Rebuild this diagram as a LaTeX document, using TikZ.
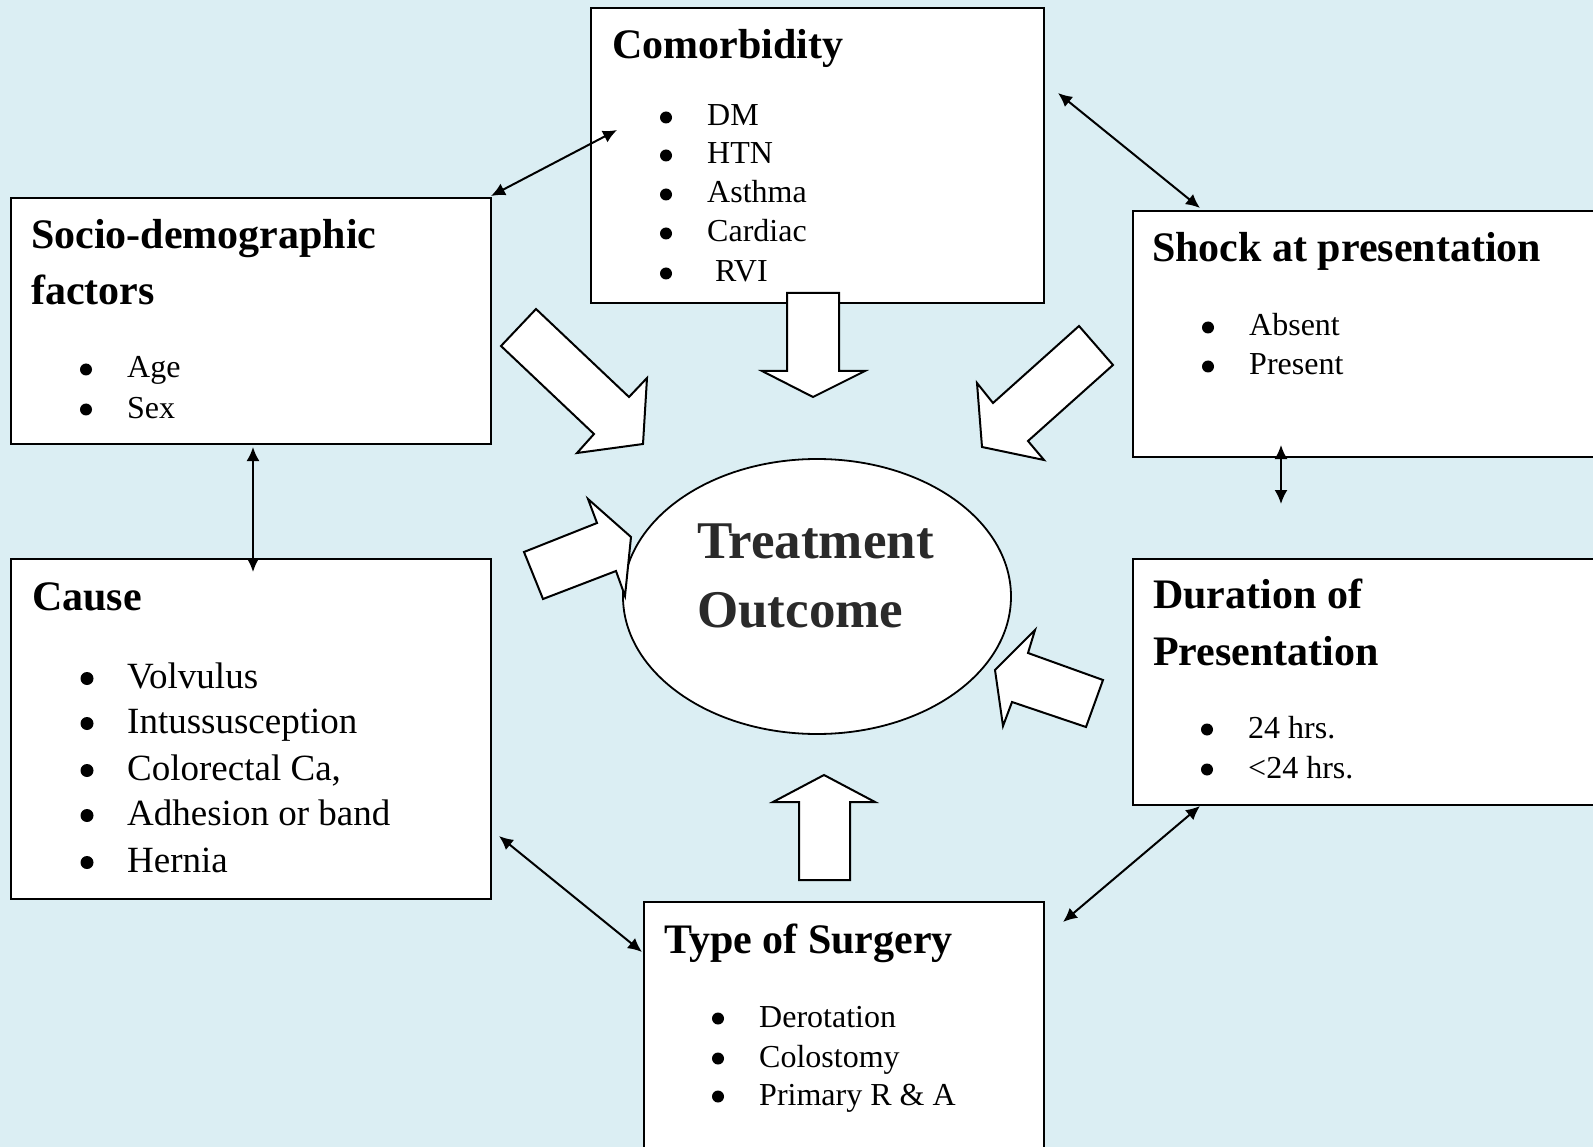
\documentclass[tikz,border=0pt]{standalone}
\usepackage{fontspec}
\setmainfont{Liberation Serif}
\usetikzlibrary{shapes.geometric,arrows.meta}
\definecolor{bg}{RGB}{219,238,243}
\definecolor{tgray}{RGB}{42,42,42}
\begin{document}
\begin{tikzpicture}[x=1pt,y=-1pt,
  box/.style={draw, line width=2pt, fill=white, anchor=north west, inner sep=0pt},
  ttl/.style={anchor=base west, inner sep=0pt, font=\fontsize{42}{50}\selectfont\bfseries},
  itm/.style={anchor=base west, inner sep=0pt, font=\fontsize{32}{38}\selectfont},
  itmL/.style={anchor=base west, inner sep=0pt, font=\fontsize{37}{44}\selectfont},
  blk/.style={draw, line width=2pt, fill=white, line join=miter},
  dbl/.style={line width=2pt, {Latex[length=14pt,width=13pt]}-{Latex[length=14pt,width=13pt]}}]
\useasboundingbox (0,0) rectangle (1593,1147);
\fill[bg] (0,0) rectangle (1593,1147);
\clip (0,0) rectangle (1593,1147);

% boxes
\node[box, minimum width=453pt, minimum height=295pt] (com) at (590,7) {};
\node[box, minimum width=480pt, minimum height=246pt] (soc) at (10,197) {};
\node[box, minimum width=480pt, minimum height=340pt] (cau) at (10,558) {};
\node[box, minimum width=500pt, minimum height=246pt] (sho) at (1132,210) {};
\node[box, minimum width=500pt, minimum height=246pt] (dur) at (1132,558) {};
\node[box, minimum width=400pt, minimum height=300pt] (sur) at (643,901) {};

% outcome ellipse
\node[draw, ellipse, line width=1.8pt, fill=white, minimum width=388pt, minimum height=275pt, inner sep=0pt] (out) at (817,596.5) {};
\node[anchor=base west, inner sep=0pt, text=tgray, font=\fontsize{53}{60}\selectfont\bfseries] (out1) at (697,558) {Treatment};
\node[anchor=base west, inner sep=0pt, text=tgray, font=\fontsize{53}{60}\selectfont\bfseries] (out2) at (697,627) {Outcome};

% block arrows
\draw[blk] (536,309) -- (501,346) -- (594,434) -- (577,453) -- (643,444) -- (647,378) -- (629,397) -- cycle;
\draw[blk] (1079,326) -- (1113,365) -- (1028,441) -- (1044,460) -- (982,447) -- (977,383) -- (993,403) -- cycle;
\draw[blk] (524,552) -- (597,523) -- (588,499) -- (631,537) -- (625,596) -- (616,571) -- (543,599) -- cycle;
\draw[blk] (1035,630) -- (1028,653) -- (1103,680) -- (1086,727) -- (1012,702) -- (1003,726) -- (995,670) -- cycle;
\draw[blk] (787,293) -- (839,293) -- (839,371) -- (865,371) -- (813,397) -- (762,371) -- (787,371) -- cycle;
\draw[blk] (824,775) -- (875,802) -- (850,802) -- (850,880) -- (799,880) -- (799,802) -- (773,802) -- cycle;

% Comorbidity
\node[ttl] (comt) at (612,59) {Comorbidity};
\node[itm] (com1) at (707,126) {DM};
\node[itm] (com2) at (707,164) {HTN};
\node[itm] (com3) at (707,203) {Asthma};
\node[itm] (com4) at (707,242) {Cardiac};
\node[itm] (com5) at (707,282) {\ RVI};

% Socio-demographic
\node[ttl] (soct1) at (31,249) {Socio-demographic};
\node[ttl] (soct2) at (31,305) {factors};
\node[itm] (soc1) at (127,378) {Age};
\node[itm] (soc2) at (127,418) {Sex};

% Cause
\node[ttl] (caut) at (32,610) {Cause};
\node[itmL] (cau1) at (127,688) {Volvulus};
\node[itmL] (cau2) at (127,733) {Intussusception};
\node[itmL] (cau3) at (127,780) {Colorectal Ca,};
\node[itmL] (cau4) at (127,825) {Adhesion or band};
\node[itmL] (cau5) at (127,872) {Hernia};

% Shock
\node[ttl] (shot) at (1152,262) {Shock at presentation};
\node[itm] (sho1) at (1249,336) {Absent};
\node[itm] (sho2) at (1249,375) {Present};

% Duration
\node[ttl] (durt1) at (1153,608) {Duration of};
\node[ttl] (durt2) at (1153,665) {Presentation};
\node[itm] (dur1) at (1248,738) {24 hrs.};
\node[itm] (dur2) at (1248,778) {<24 hrs.};

% Surgery
\node[ttl] (surt) at (664,953) {Type of Surgery};
\node[itm] (sur1) at (759,1027) {Derotation};
\node[itm] (sur2) at (759,1067) {Colostomy};
\node[itm] (sur3) at (759,1105) {Primary R \& A};

% list bullets
\foreach \n in {com1,com2,com3,com4,com5,soc1,soc2,sho1,sho2,dur1,dur2,sur1,sur2,sur3}
  \fill ([xshift=-41pt,yshift=8.5pt]\n.base west) circle (6pt);
\foreach \n in {cau1,cau2,cau3,cau4,cau5}
  \fill ([xshift=-40pt,yshift=9.5pt]\n.base west) circle (6.5pt);

% double-headed connectors
\coordinate (p1a) at (491,196); \coordinate (p1b) at (617,130);
\coordinate (p2a) at (1058,93); \coordinate (p2b) at (1200,208);
\coordinate (p3a) at (253,447); \coordinate (p3b) at (253,572);
\coordinate (p4a) at (1281,445); \coordinate (p4b) at (1281,504);
\coordinate (p5a) at (499,836); \coordinate (p5b) at (642,952);
\coordinate (p6a) at (1200,806); \coordinate (p6b) at (1063,922);
\draw[dbl] (p1a) -- (p1b);
\draw[dbl] (p2a) -- (p2b);
\draw[dbl] (p3a) -- (p3b);
\draw[dbl] (p4a) -- (p4b);
\draw[dbl] (p5a) -- (p5b);
\draw[dbl] (p6a) -- (p6b);
\end{tikzpicture}
\end{document}
